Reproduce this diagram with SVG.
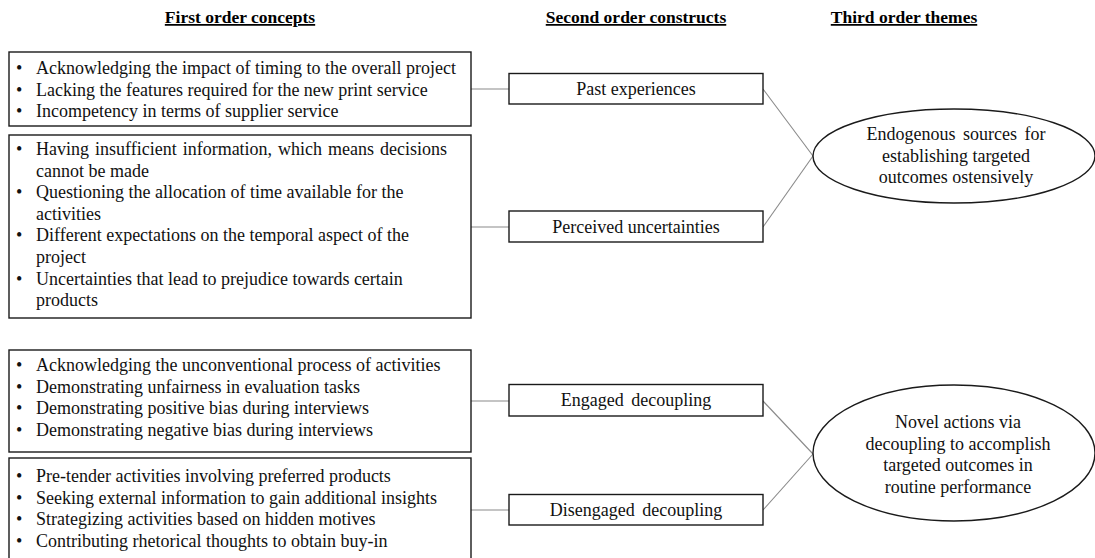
<svg xmlns="http://www.w3.org/2000/svg" width="1095" height="558" viewBox="0 0 1095 558">
  <style>
    .bg { fill: #ffffff; }
    .box { fill: #ffffff; stroke: #1a1a1a; stroke-width: 1.4; }
    .oval { fill: #ffffff; stroke: #1a1a1a; stroke-width: 1.4; }
    .link { stroke: #8a8a8a; stroke-width: 1.1; fill: none; }
    .hdr { font-family: "Liberation Serif", "Times New Roman", serif; font-size: 17.5px; font-weight: bold; text-decoration: underline; fill: #000; text-anchor: middle; }
    .txt { font-family: "Liberation Serif", "Times New Roman", serif; font-size: 18px; fill: #111; }
    .mid { text-anchor: middle; }
  </style>

  <rect class="bg" x="0" y="0" width="1095" height="558"/>

  <!-- column headings -->
  <g id="headings">
    <text class="hdr" x="240" y="23">First order concepts</text>
    <text class="hdr" x="636" y="23">Second order constructs</text>
    <text class="hdr" x="904" y="23">Third order themes</text>
  </g>

  <!-- connectors -->
  <g id="connectors">
    <line class="link" x1="471" y1="89" x2="509" y2="89"/>
    <line class="link" x1="471" y1="227" x2="509" y2="227"/>
    <line class="link" x1="471" y1="401" x2="509" y2="401"/>
    <line class="link" x1="471" y1="510" x2="509" y2="510"/>
    <line class="link" x1="763" y1="89" x2="813" y2="156"/>
    <line class="link" x1="763" y1="227" x2="813" y2="156"/>
    <line class="link" x1="763" y1="401" x2="813" y2="454"/>
    <line class="link" x1="763" y1="510" x2="813" y2="454"/>
  </g>

  <!-- first order concepts -->
  <g id="concepts-past">
    <rect class="box" x="9" y="52" width="462" height="74"/>
    <text class="txt" x="16" y="74">•</text>
    <text class="txt" x="36" y="74">Acknowledging the impact of timing to the overall project</text>
    <text class="txt" x="16" y="95.5">•</text>
    <text class="txt" x="36" y="95.5">Lacking the features required for the new print service</text>
    <text class="txt" x="16" y="117">•</text>
    <text class="txt" x="36" y="117">Incompetency in terms of supplier service</text>
  </g>

  <g id="concepts-uncertainty">
    <rect class="box" x="9" y="135" width="462" height="183"/>
    <text class="txt" x="16" y="155">•</text>
    <text class="txt" x="36" y="155" word-spacing="1.5">Having insufficient information, which means decisions</text>
    <text class="txt" x="36" y="176.6">cannot be made</text>
    <text class="txt" x="16" y="198.2">•</text>
    <text class="txt" x="36" y="198.2">Questioning the allocation of time available for the</text>
    <text class="txt" x="36" y="219.8">activities</text>
    <text class="txt" x="16" y="241.4">•</text>
    <text class="txt" x="36" y="241.4">Different expectations on the temporal aspect of the</text>
    <text class="txt" x="36" y="263">project</text>
    <text class="txt" x="16" y="284.6">•</text>
    <text class="txt" x="36" y="284.6">Uncertainties that lead to prejudice towards certain</text>
    <text class="txt" x="36" y="306.2">products</text>
  </g>

  <g id="concepts-engaged">
    <rect class="box" x="9" y="350" width="462" height="102"/>
    <text class="txt" x="16" y="371">•</text>
    <text class="txt" x="36" y="371">Acknowledging the unconventional process of activities</text>
    <text class="txt" x="16" y="392.6">•</text>
    <text class="txt" x="36" y="392.6">Demonstrating unfairness in evaluation tasks</text>
    <text class="txt" x="16" y="414.2">•</text>
    <text class="txt" x="36" y="414.2">Demonstrating positive bias during interviews</text>
    <text class="txt" x="16" y="435.8">•</text>
    <text class="txt" x="36" y="435.8">Demonstrating negative bias during interviews</text>
  </g>

  <g id="concepts-disengaged">
    <rect class="box" x="9" y="458" width="462" height="110"/>
    <text class="txt" x="16" y="482">•</text>
    <text class="txt" x="36" y="482">Pre-tender activities involving preferred products</text>
    <text class="txt" x="16" y="503.6">•</text>
    <text class="txt" x="36" y="503.6">Seeking external information to gain additional insights</text>
    <text class="txt" x="16" y="525.2">•</text>
    <text class="txt" x="36" y="525.2">Strategizing activities based on hidden motives</text>
    <text class="txt" x="16" y="546.8">•</text>
    <text class="txt" x="36" y="546.8">Contributing rhetorical thoughts to obtain buy-in</text>
  </g>

  <!-- second order constructs -->
  <g id="past-experiences">
    <rect class="box" x="509" y="73.5" width="254" height="30.5"/>
    <text class="txt mid" x="636" y="94.5">Past experiences</text>
  </g>
  <g id="perceived-uncertainties">
    <rect class="box" x="509" y="211" width="254" height="31"/>
    <text class="txt mid" x="636" y="232.5">Perceived uncertainties</text>
  </g>
  <g id="engaged-decoupling">
    <rect class="box" x="509" y="384.5" width="254" height="31.5"/>
    <text class="txt mid" x="636" y="406" word-spacing="3">Engaged decoupling</text>
  </g>
  <g id="disengaged-decoupling">
    <rect class="box" x="509" y="494.5" width="254" height="30.5"/>
    <text class="txt mid" x="636" y="516" word-spacing="3">Disengaged decoupling</text>
  </g>

  <!-- third order themes -->
  <g id="endogenous-sources">
    <ellipse class="oval" cx="954" cy="156" rx="141" ry="47"/>
    <text class="txt mid" x="956" y="140" word-spacing="3">Endogenous sources for</text>
    <text class="txt mid" x="956" y="161.5">establishing targeted</text>
    <text class="txt mid" x="956" y="183">outcomes ostensively</text>
  </g>
  <g id="novel-actions">
    <ellipse class="oval" cx="954" cy="453" rx="141" ry="68"/>
    <text class="txt mid" x="958" y="428">Novel actions via</text>
    <text class="txt mid" x="958" y="449.5">decoupling to accomplish</text>
    <text class="txt mid" x="958" y="471">targeted outcomes in</text>
    <text class="txt mid" x="958" y="492.5">routine performance</text>
  </g>
</svg>
